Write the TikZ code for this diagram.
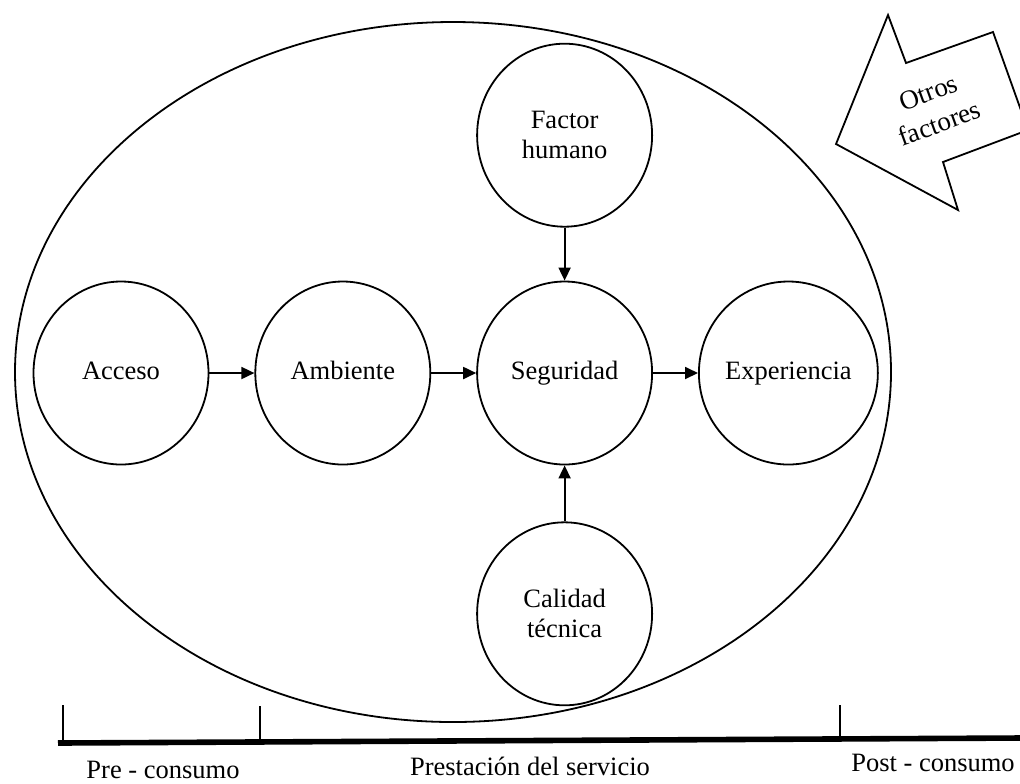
\documentclass[tikz,border=0pt]{standalone}
\usepackage{fontspec}
\setmainfont{Liberation Serif}
\usetikzlibrary{arrows.meta,positioning,shapes.geometric}

\begin{document}
\begin{tikzpicture}[
    x=0.5pt, y=-0.5pt,
    node distance=22.5pt,
    every node/.style={font=\fontsize{13.25}{15}\selectfont},
    etapa/.style={ellipse, draw, line width=0.9pt, minimum width=87.5pt, minimum height=91.5pt, inner sep=0pt, align=center},
    flecha/.style={-{Triangle[length=6.5pt,width=6pt]}, line width=0.9pt}
]
\useasboundingbox (0,0) rectangle (1020,783);
\node[ellipse, draw, line width=0.9pt, minimum width=438pt, minimum height=350pt] (marco) at (453,372) {};

\node[etapa] (acceso) at (121,373) {\strut Acceso};
\node[etapa, right=of acceso] (ambiente) {\strut Ambiente};
\node[etapa, right=of ambiente] (seguridad) {\strut Seguridad};
\node[etapa, right=of seguridad] (experiencia) {\strut Experiencia};
\node[etapa, above=26.5pt of seguridad] (humano) {Factor\\humano};
\node[etapa, below=28pt of seguridad] (calidad) {Calidad\\técnica};

\draw[flecha] (acceso) -- (ambiente);
\draw[flecha] (ambiente) -- (seguridad);
\draw[flecha] (seguridad) -- (experiencia);
\draw[flecha] (humano) -- (seguridad);
\draw[flecha] (calidad) -- (seguridad);

% otros factores
\begin{scope}
\clip (0,0) rectangle (1020,783);
\draw[line width=0.9pt, line join=miter] (836,144) -- (888,15) -- (906,63) -- (993,32) -- (1028,130) -- (943,162) -- (958,210) -- cycle;
\end{scope}
\node[rotate=20, align=center, font=\fontsize{13.5}{16.5}\selectfont] (otros) at (934,108) {Otros\\factores};

% linea de tiempo
\coordinate (ini) at (58,743);
\coordinate (fin) at (1020,738);
\draw[line width=2.8pt] (ini) -- (fin);
\coordinate (m1) at (63,705);
\coordinate (m2) at (260,706);
\coordinate (m3) at (840,705);
\draw[line width=0.6pt] (m1) -- (63,743);
\draw[line width=0.6pt] (m2) -- (260,742);
\draw[line width=0.6pt] (m3) -- (840,739);
\node[anchor=base] (pre) at (163,778) {Pre - consumo};
\node[anchor=base] (prestacion) at (530,775) {Prestación del servicio};
\node[anchor=base] (post) at (933,771) {Post - consumo};
\end{tikzpicture}
\end{document}
